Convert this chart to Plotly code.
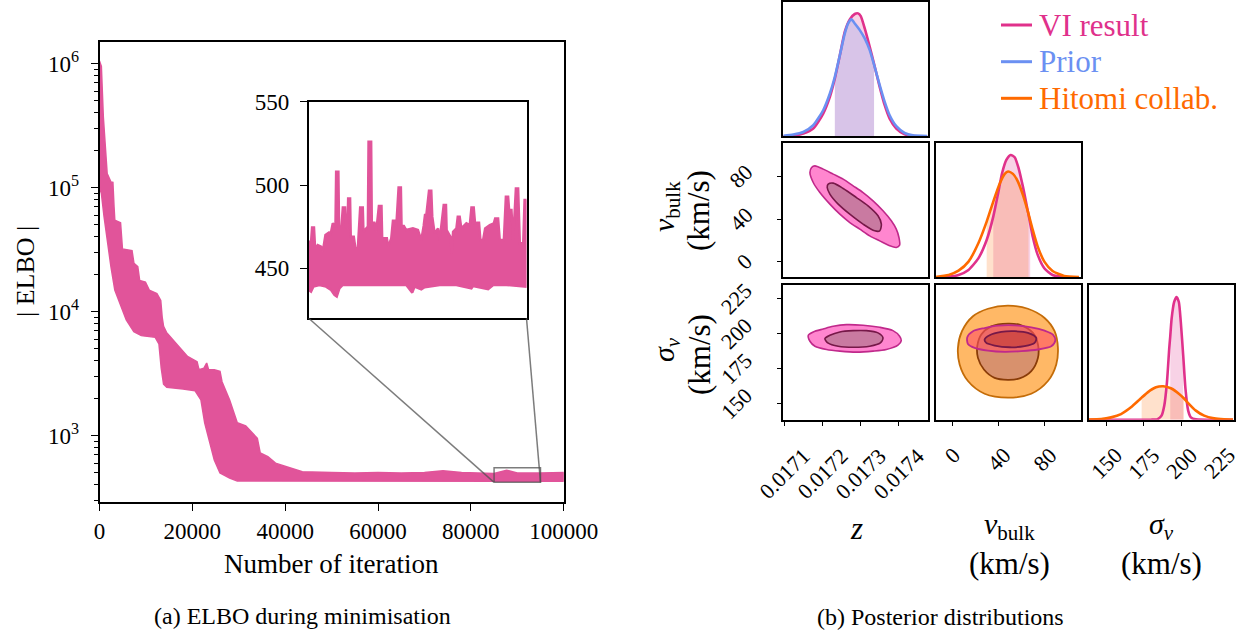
import math
import plotly.graph_objects as go

# ---------------- data: ELBO trace (envelope) ----------------
elbo_upper_iter = [0, 400, 825, 1236, 1650, 2473, 2886, 3133, 3298, 4535, 4947, 7008, 7421, 8245, 8658, 9894,
                   10718, 12367, 13192, 13500, 13800, 14430, 16480, 18960, 21020, 21430, 22500, 23090, 23500,
                   24730, 25960, 26390, 28030, 29680, 31500, 32980, 34000, 34620, 36270, 37920, 40390, 43690,
                   50000, 55000, 60000, 65000, 70000, 74000, 78000, 85000, 87700, 90000, 95000, 100000]
elbo_upper_val = [1.05e6, 9.5e5, 3.7e5, 2.1e5, 1.3e5, 1.11e5, 1.1e5, 7.0e4, 5.45e4, 5.2e4, 3.2e4, 3.1e4, 2.45e4,
                  2.3e4, 1.78e4, 1.73e4, 1.49e4, 1.4e4, 1.23e4, 9000, 7600, 6800, 5600, 4350, 3950, 3400, 3500,
                  3850, 3400, 3400, 3300, 2720, 1940, 1270, 1200, 1050, 950, 725, 677, 600, 562, 512,
                  505, 500, 505, 500, 505, 520, 505, 495, 526, 500, 500, 505]
elbo_lower_iter = [0, 413, 991, 1650, 2473, 3298, 4300, 5770, 7400, 9000, 12000, 12800, 13300, 13800, 14500,
                   18000, 20600, 21850, 22660, 23500, 24730, 25960, 28030, 29680, 100000]
elbo_lower_val = [1.0e5, 8.95e4, 5.8e4, 3.76e4, 2.29e4, 1.49e4, 1.2e4, 8550, 6900, 6400, 6200, 5500, 3500,
                  2600, 2450, 2380, 2300, 1940, 1270, 980, 636, 500, 455, 430, 428]

# zoomed window shown in the inset
zoom_iter = [85000, 95000]
zoom_val = [420, 550]

inset_upper_iter = [85000, 85107, 85153, 85245, 85291, 85368, 85414, 85568, 85644, 85767, 85920, 85982, 86104,
                    86227, 86258, 86365, 86396, 86503, 86565, 86672, 86703, 86779, 86810, 86902, 86933, 87071,
                    87148, 87255, 87362, 87485, 87516, 87715, 87746, 87869, 87899, 88022, 88099, 88221, 88344,
                    88375, 88590, 88651, 88789, 88866, 88958, 89019, 89126, 89234, 89265, 89372, 89479, 89786,
                    90016, 90170, 90277, 90338, 90400, 90522, 90630, 90676, 90783, 90937, 91013, 91197, 91305,
                    91335, 91504, 91566, 91627, 91780, 91842, 91934, 92010, 92240, 92394, 92471, 92578, 92639,
                    92731, 92823, 92885, 93007, 93099, 93314, 93498, 93560, 93698, 93774, 93959, 94051, 94158,
                    94204, 94311, 94388, 94511, 94618, 94695, 94848, 94910, 95000]
inset_upper_val = [466, 466, 474.6, 474.6, 463, 463, 464, 463, 460, 470, 471.4, 469, 477, 475, 508, 508, 475,
                   475, 486.6, 486.6, 475, 474, 492, 492, 469, 469, 462, 462, 486.6, 486.6, 472, 475, 526, 526,
                   477.4, 477.4, 472, 487.4, 487.4, 468, 468, 463, 468, 478.6, 478.6, 475, 498.6, 498.6, 475.4,
                   475.4, 473, 474, 473, 467, 475.4, 482, 482, 496.6, 496.6, 481, 471, 474, 467, 488, 488, 473,
                   469, 459, 472, 474, 481, 481, 474, 477, 476, 486.6, 486.6, 477, 477.4, 477.4, 467, 467, 474,
                   476, 477, 480, 480, 467, 467, 493, 493, 485, 485, 467, 498, 498, 465, 465, 491, 491]
inset_lower_iter = [85000, 85107, 85215, 85491, 85798, 86028, 86181, 86289, 86411, 86565, 87178, 87945, 88712,
                    89479, 89755, 89863, 90170, 90323, 91013, 91780, 92471, 92547, 93238, 93468, 94081, 95000]
inset_lower_val = [437, 436, 439, 440, 439, 437, 434, 433, 438, 440, 440.4, 440, 440, 440, 435.4, 439, 437.4,
                   438.6, 440, 440, 438, 439.4, 437.4, 440, 440, 439]

elbo_xticks = [0, 20000, 40000, 60000, 80000, 100000]
elbo_yticks = [1e3, 1e4, 1e5, 1e6]
inset_yticks = [450, 500, 550]

# ---------------- data: corner plot ----------------
# z marginal
z_vi = [0.0170972, 0.0171233, 0.0171494, 0.0171755, 0.0172016, 0.0172191, 0.0172321, 0.0172452, 0.0172582,
        0.0172713, 0.0172843, 0.0172930, 0.0173000, 0.0173104, 0.0173235, 0.0173348, 0.0173496, 0.0173627,
        0.0173757, 0.0173931, 0.0174149, 0.0174366, 0.0174741]
z_vi_dens = [0, 0.005, 0.022, 0.063, 0.185, 0.321, 0.470, 0.660, 0.851, 0.951, 0.995, 1.0, 0.978, 0.878, 0.728,
             0.59, 0.402, 0.253, 0.144, 0.063, 0.016, 0.003, 0]
z_prior = [0.0170972, 0.0171233, 0.0171494, 0.0171755, 0.0172016, 0.0172191, 0.0172321, 0.0172452, 0.0172582,
           0.0172669, 0.0172756, 0.0172843, 0.0172974, 0.0173104, 0.0173235, 0.0173348, 0.0173496, 0.0173627,
           0.0173757, 0.0173931, 0.0174149, 0.0174366, 0.0174741]
z_prior_dens = [0.005, 0.014, 0.035, 0.090, 0.212, 0.348, 0.484, 0.660, 0.837, 0.918, 0.951, 0.918, 0.864,
                0.796, 0.701, 0.583, 0.416, 0.280, 0.171, 0.082, 0.027, 0.008, 0.003]
z_band = [0.0172321, 0.0173348]

# v_bulk marginal
vb_vi = [-14.5, -3.1, 5.4, 14.0, 22.5, 29.7, 35.4, 39.6, 43.0, 46.7, 50.5, 53.9, 57.3, 61.0, 65.3, 67.3, 69.5,
         73.8, 79.5, 86.6, 96.6, 109.4]
vb_vi_dens = [0, 0.005, 0.019, 0.060, 0.155, 0.305, 0.496, 0.687, 0.850, 0.959, 1.0, 0.981, 0.891, 0.741, 0.537,
              0.44, 0.332, 0.183, 0.074, 0.019, 0.003, 0]
vb_hit = [-14.5, -3.1, 5.4, 14.0, 22.5, 29.7, 35.4, 41.1, 45.3, 48.2, 52.4, 56.7, 61.0, 65.3, 65.8, 69.5, 73.8,
          79.5, 86.6, 96.6, 109.4]
vb_hit_dens = [0.003, 0.019, 0.054, 0.128, 0.278, 0.455, 0.619, 0.768, 0.845, 0.864, 0.845, 0.782, 0.673, 0.537,
               0.52, 0.387, 0.251, 0.128, 0.052, 0.011, 0.003]
vb_band_vi = [35.4, 67.3]
vb_band_hit = [29.7, 65.8]

# sigma_v marginal
sg_vi = [138.3, 179.8, 184.2, 186.8, 188.6, 190.4, 191.9, 192.6, 193.5, 195.2, 196.8, 198.3, 199.6, 201.2, 202.7,
         204.5, 206.3, 209.6, 234.3]
sg_vi_dens = [0, 0, 0.005, 0.033, 0.114, 0.305, 0.578, 0.68, 0.823, 0.959, 1.0, 0.959, 0.796, 0.523, 0.251,
              0.074, 0.019, 0.003, 0]
sg_hit = [138.3, 146.7, 153.3, 159.9, 166.5, 172.1, 173.6, 177.6, 183.1, 187.9, 193.0, 198.5, 201.6, 204.0,
          209.6, 215.1, 221.7, 228.3, 234.3]
sg_hit_dens = [0.002, 0.005, 0.019, 0.046, 0.101, 0.163, 0.18, 0.223, 0.264, 0.272, 0.256, 0.210, 0.175, 0.142,
               0.074, 0.033, 0.011, 0.003, 0.001]
sg_band_vi = [192.6, 201.2]
sg_band_hit = [173.6, 201.6]

# 2D contours (z, v_bulk)
zvb_outer_z = [0.0171712, 0.0171799, 0.0172016, 0.0172278, 0.0172539, 0.0172800, 0.0173061, 0.0173322,
               0.0173583, 0.0173801, 0.0173931, 0.0174001, 0.0174018, 0.0173931, 0.0173757, 0.0173496,
               0.0173235, 0.0172974, 0.0172713, 0.0172452, 0.0172191, 0.0171929, 0.0171755, 0.0171668]
zvb_outer_vb = [88.4, 89.9, 86.8, 82.1, 77.4, 71.2, 64.9, 57.1, 47.8, 38.4, 30.6, 22.8, 15.6, 13.4, 15.0, 19.6,
                24.3, 30.6, 36.8, 44.6, 54.0, 64.9, 74.3, 83.7]
zvb_inner_z = [0.0172147, 0.0172278, 0.0172539, 0.0172887, 0.0173191, 0.0173452, 0.0173540, 0.0173496,
               0.0173365, 0.0173061, 0.0172713, 0.0172408, 0.0172191, 0.0172121]
zvb_inner_vb = [72.7, 73.7, 68.7, 60.2, 52.4, 43.1, 35.3, 29.0, 29.0, 35.3, 44.6, 54.0, 63.4, 69.6]

# 2D contours (z, sigma_v)
zsg_outer_z = [0.0171625, 0.0171755, 0.0172016, 0.0172278, 0.0172626, 0.0173061, 0.0173496, 0.0173844,
               0.0174018, 0.0174062, 0.0173975, 0.0173670, 0.0173322, 0.0172887, 0.0172452, 0.0172103,
               0.0171799, 0.0171668]
zsg_outer_sg = [198.8, 201.2, 203.3, 205.2, 206.4, 205.95, 204.5, 202.1, 198.1, 195.0, 191.7, 188.6, 187.4,
                186.7, 187.4, 188.6, 190.95, 194.5]
zsg_inner_z = [0.0172060, 0.0172191, 0.0172452, 0.0172800, 0.0173148, 0.0173452, 0.0173583, 0.0173513,
               0.0173235, 0.0172800, 0.0172408, 0.0172147]
zsg_inner_sg = [196.4, 198.8, 201.2, 202.1, 202.1, 200.5, 196.9, 193.3, 190.95, 190.2, 190.95, 193.1]

# 2D contours (v_bulk, sigma_v)
vbsg_outer_vb = [12.95, 17.85, 27.92, 39.43, 53.82, 68.21, 79.72, 86.92, 88.93, 85.48, 73.97, 59.58, 45.19,
                 30.80, 19.28, 13.53]
vbsg_outer_sg = [197.4, 201.7, 204.0, 205.7, 205.95, 204.5, 202.1, 199.3, 195.0, 190.95, 188.6, 187.4, 186.9,
                 187.8, 189.8, 192.6]
vbsg_inner_vb = [27.92, 32.24, 42.31, 53.82, 65.33, 72.53, 71.09, 62.45, 49.5, 36.55, 29.36]
vbsg_inner_sg = [195.7, 198.8, 201.2, 201.7, 200.5, 196.9, 193.3, 190.95, 190.2, 191.4, 193.3]
hit_outer_vb = [48.06, 65.33, 79.72, 88.36, 91.23, 89.80, 82.60, 68.21, 48.06, 27.92, 13.53, 6.33, 4.89, 8.35,
                17.85, 30.80]
hit_outer_sg = [220.0, 217.8, 211.2, 201.7, 189.8, 177.9, 166.0, 156.9, 154.1, 156.9, 166.0, 177.9, 189.8,
                201.7, 212.4, 217.8]
hit_inner_vb = [48.06, 59.58, 69.65, 73.97, 73.97, 68.21, 58.14, 48.06, 36.55, 27.34, 22.16, 21.59, 25.04, 33.67]
hit_inner_sg = [207.2, 205.95, 200.5, 192.2, 182.6, 173.1, 167.9, 166.9, 168.3, 174.3, 182.6, 190.95, 199.3,
                205.2]

z_ticks = [0.0171, 0.0172, 0.0173, 0.0174]
z_ticklabels = ["0.0171", "0.0172", "0.0173", "0.0174"]
vb_ticks = [0, 40, 80]
vb_ticklabels = ["0", "40", "80"]
sg_ticks = [150, 175, 200, 225]
sg_ticklabels = ["150", "175", "200", "225"]

legend_names = ["VI result", "Prior", "Hitomi collab."]

# ---------------- style / layout helpers ----------------
W, H = 1252, 637
FONT = "'Liberation Serif', 'Times New Roman', Times, serif"
BAND = "#e1549a"
C_VI = "#e0318b"
C_PRIOR = "#6b90f2"
C_HIT = "#ff6a00"
legend_colors = [C_VI, C_PRIOR, C_HIT]


def xd(left, right):
    return [left / W, right / W]


def yd(top, bottom):
    return [1 - bottom / H, 1 - top / H]


fig = go.Figure()


def closed(a):
    return list(a) + [a[0]]


def band_poly(xs, ys, lo, hi):
    px, py = [lo], [0.0]
    for x, y in zip(xs, ys):
        if lo - 1e-9 <= x <= hi + 1e-9:
            px.append(x)
            py.append(y)
    px.append(hi)
    py.append(0.0)
    return px, py


def add(tr, ax):
    tr.update(xaxis="x" + ax, yaxis="y" + ax, hoverinfo="skip", showlegend=False)
    fig.add_trace(tr)


# ---- main ELBO band
add(go.Scatter(x=elbo_upper_iter + elbo_lower_iter[::-1], y=elbo_upper_val + elbo_lower_val[::-1],
               mode="lines", fill="toself", fillcolor=BAND, line=dict(color=BAND, width=1.5)), "")
# zoom rectangle
add(go.Scatter(x=[zoom_iter[0], zoom_iter[1], zoom_iter[1], zoom_iter[0], zoom_iter[0]],
               y=[zoom_val[0], zoom_val[0], zoom_val[1], zoom_val[1], zoom_val[0]],
               mode="lines", line=dict(color="rgba(80,80,80,0.75)", width=1.5)), "")
# ---- inset
add(go.Scatter(x=inset_upper_iter + inset_lower_iter[::-1], y=inset_upper_val + inset_lower_val[::-1],
               mode="lines", fill="toself", fillcolor=BAND, line=dict(color=BAND, width=2.4)), "2")

# ---- z marginal (axis 3)
px, py = band_poly(z_vi, z_vi_dens, *z_band)
add(go.Scatter(x=px, y=py, mode="lines", fill="toself", fillcolor="rgba(224,49,139,0.22)",
               line=dict(width=0)), "3")
px, py = band_poly(z_prior, z_prior_dens, *z_band)
add(go.Scatter(x=px, y=py, mode="lines", fill="toself", fillcolor="rgba(107,144,242,0.22)",
               line=dict(width=0)), "3")
add(go.Scatter(x=z_vi, y=z_vi_dens, mode="lines",
               line=dict(color=C_VI, width=2.6, shape="spline", smoothing=0.6)), "3")
add(go.Scatter(x=z_prior, y=z_prior_dens, mode="lines",
               line=dict(color=C_PRIOR, width=2.6, shape="spline", smoothing=0.6)), "3")

# ---- z vs v_bulk (axis 4)
add(go.Scatter(x=closed(zvb_outer_z), y=closed(zvb_outer_vb), mode="lines", fill="toself", fillcolor="#ff86cf",
               line=dict(color="#c0298b", width=1.6, shape="spline", smoothing=0.8)), "4")
add(go.Scatter(x=closed(zvb_inner_z), y=closed(zvb_inner_vb), mode="lines", fill="toself", fillcolor="#c97aa1",
               line=dict(color="#761848", width=1.6, shape="spline", smoothing=0.8)), "4")

# ---- v_bulk marginal (axis 5)
px, py = band_poly(vb_vi, vb_vi_dens, *vb_band_vi)
add(go.Scatter(x=px, y=py, mode="lines", fill="toself", fillcolor="rgba(224,49,139,0.22)",
               line=dict(width=0)), "5")
px, py = band_poly(vb_hit, vb_hit_dens, *vb_band_hit)
add(go.Scatter(x=px, y=py, mode="lines", fill="toself", fillcolor="rgba(255,106,0,0.2)",
               line=dict(width=0)), "5")
add(go.Scatter(x=vb_vi, y=vb_vi_dens, mode="lines",
               line=dict(color=C_VI, width=2.6, shape="spline", smoothing=0.6)), "5")
add(go.Scatter(x=vb_hit, y=vb_hit_dens, mode="lines",
               line=dict(color=C_HIT, width=2.6, shape="spline", smoothing=0.6)), "5")

# ---- z vs sigma (axis 6)
add(go.Scatter(x=closed(zsg_outer_z), y=closed(zsg_outer_sg), mode="lines", fill="toself", fillcolor="#ff86cf",
               line=dict(color="#c0298b", width=1.6, shape="spline", smoothing=0.8)), "6")
add(go.Scatter(x=closed(zsg_inner_z), y=closed(zsg_inner_sg), mode="lines", fill="toself", fillcolor="#c97aa1",
               line=dict(color="#761848", width=1.6, shape="spline", smoothing=0.8)), "6")

# ---- v_bulk vs sigma (axis 7)
add(go.Scatter(x=closed(hit_outer_vb), y=closed(hit_outer_sg), mode="lines", fill="toself", fillcolor="#ffb866",
               line=dict(color="#c46c08", width=1.8, shape="spline", smoothing=1)), "7")
add(go.Scatter(x=closed(hit_inner_vb), y=closed(hit_inner_sg), mode="lines", fill="toself", fillcolor="#d8916d",
               line=dict(color="#8a3c08", width=1.8, shape="spline", smoothing=1)), "7")
add(go.Scatter(x=closed(vbsg_outer_vb), y=closed(vbsg_outer_sg), mode="lines", fill="toself",
               fillcolor="rgba(255,80,100,0.6)",
               line=dict(color="#c0298b", width=1.8, shape="spline", smoothing=0.8)), "7")
add(go.Scatter(x=closed(vbsg_inner_vb), y=closed(vbsg_inner_sg), mode="lines", fill="toself",
               fillcolor="rgba(190,55,50,0.6)",
               line=dict(color="#761848", width=1.8, shape="spline", smoothing=0.8)), "7")

# ---- sigma marginal (axis 8)
px, py = band_poly(sg_vi, sg_vi_dens, *sg_band_vi)
add(go.Scatter(x=px, y=py, mode="lines", fill="toself", fillcolor="rgba(224,49,139,0.22)",
               line=dict(width=0)), "8")
px, py = band_poly(sg_hit, sg_hit_dens, *sg_band_hit)
add(go.Scatter(x=px, y=py, mode="lines", fill="toself", fillcolor="rgba(255,106,0,0.2)",
               line=dict(width=0)), "8")
add(go.Scatter(x=sg_vi, y=sg_vi_dens, mode="lines",
               line=dict(color=C_VI, width=2.6, shape="spline", smoothing=0.6)), "8")
add(go.Scatter(x=sg_hit, y=sg_hit_dens, mode="lines",
               line=dict(color=C_HIT, width=2.6, shape="spline", smoothing=0.6)), "8")

# ---------------- axes ----------------
TF = dict(family=FONT, size=23, color="black")
frame = dict(showline=True, mirror=True, linecolor="black", linewidth=1.6, showgrid=False, zeroline=False,
             automargin=False)
noticks = dict(ticks="", showticklabels=False)

main_x_dom = xd(99.5, 563.7)
main_y_dom = yd(41.7, 502.3)
main_y_rng = [math.log10(290), math.log10(1.5e6)]
minor_vals = [m * 10 ** e for e in range(2, 7) for m in range(2, 10)]

axes = {}
axes["xaxis"] = dict(domain=main_x_dom, range=[0, 100000], anchor="y", tickvals=elbo_xticks,
                     ticktext=[str(v) for v in elbo_xticks], ticks="outside", ticklen=7, tickwidth=1.4,
                     tickcolor="black", tickfont=TF, ticklabelstandoff=0, **frame)
axes["yaxis"] = dict(domain=main_y_dom, type="log", range=main_y_rng, anchor="x", tickvals=elbo_yticks,
                     ticktext=["10<sup>%d</sup>" % round(math.log10(v)) for v in elbo_yticks],
                     ticks="outside", ticklen=7, tickwidth=1.4, tickcolor="black", tickfont=TF,
                     ticklabelstandoff=7,
                     minor=dict(tickmode="array", tickvals=minor_vals, ticks="outside", ticklen=4,
                                tickwidth=1.1, tickcolor="black", showgrid=False), **frame)
axes["xaxis2"] = dict(domain=xd(308.7, 526.5), range=zoom_iter, anchor="y2", **noticks, **frame)
axes["yaxis2"] = dict(domain=yd(101.7, 318.3), range=zoom_val, anchor="x2", tickvals=inset_yticks,
                      ticktext=[str(v) for v in inset_yticks], ticks="outside", ticklen=7, tickwidth=1.4,
                      tickcolor="black", tickfont=TF, ticklabelstandoff=6, **frame)

cols = [xd(783.3, 928.3), xd(935.5, 1080.8), xd(1088.5, 1233.5)]
rows = [yd(1.7, 136.3), yd(143.3, 277.3), yd(285.3, 419.7)]
z_rng = [0.017097, 0.017477]
vb_rng = [-14.5, 111]
sg_rng = [138.3, 234.6]
m_rng = [0, 1.095]
cframe = dict(frame, linewidth=1.5)
tk = dict(ticks="outside", ticklen=5, tickwidth=1.3, tickcolor="black", showticklabels=False)

panels = {
    "3": (cols[0], rows[0], z_rng, m_rng, None, None),
    "4": (cols[0], rows[1], z_rng, vb_rng, None, vb_ticks),
    "5": (cols[1], rows[1], vb_rng, m_rng, None, None),
    "6": (cols[0], rows[2], z_rng, sg_rng, z_ticks, sg_ticks),
    "7": (cols[1], rows[2], vb_rng, sg_rng, vb_ticks, None),
    "8": (cols[2], rows[2], sg_rng, m_rng, sg_ticks, None),
}
for k, (xdom, ydom, xr, yr, xt, yt) in panels.items():
    ax = dict(domain=xdom, range=xr, anchor="y" + k, **cframe)
    ax.update(dict(tk, tickvals=xt) if xt else noticks)
    ay = dict(domain=ydom, range=yr, anchor="x" + k, **cframe)
    ay.update(dict(tk, tickvals=yt) if yt else noticks)
    axes["xaxis" + k] = ax
    axes["yaxis" + k] = ay

# ---------------- annotations ----------------
ann = []


def txt(x, y, s, size, angle=0, xref="paper", yref="paper", xa="center", ya="middle", color="black"):
    ann.append(dict(x=x, y=y, xref=xref, yref=yref, text=s, showarrow=False, textangle=angle,
                    xanchor=xa, yanchor=ya, font=dict(family=FONT, size=size, color=color)))


# rotated tick labels of the corner plot
for xa_id, vals, labs in [("x6", z_ticks, z_ticklabels), ("x7", vb_ticks, vb_ticklabels),
                          ("x8", sg_ticks, sg_ticklabels)]:
    for v, l in zip(vals, labs):
        txt(v, 1 - 440 / H, l, 22, -45, xref=xa_id, ya="top")
for ya_id, vals, labs in [("y4", vb_ticks, vb_ticklabels), ("y6", sg_ticks, sg_ticklabels)]:
    for v, l in zip(vals, labs):
        txt(760 / W, v, l, 22, -45, yref=ya_id, xa="right")

# axis titles
txt(331 / W, 1 - 564 / H, "Number of iteration", 27)
txt(25 / W, 1 - 272 / H, "| ELBO |", 26, -90)
txt(856 / W, 1 - 528 / H, "<i>z</i>", 31)
txt(1009 / W, 1 - 526 / H, "<i>v</i><sub>bulk</sub>", 30)
txt(1009 / W, 1 - 563 / H, "(km/s)", 31)
txt(1161 / W, 1 - 526 / H, "<i>σ</i><sub><i>v</i></sub>", 30)
txt(1161 / W, 1 - 563 / H, "(km/s)", 31)
txt(666 / W, 1 - 207 / H, "<i>v</i><sub>bulk</sub>", 30, -90)
txt(699 / W, 1 - 210 / H, "(km/s)", 31, -90)
txt(666 / W, 1 - 350 / H, "<i>σ</i><sub><i>v</i></sub>", 30, -90)
txt(699 / W, 1 - 354 / H, "(km/s)", 31, -90)
# captions
txt(302 / W, 1 - 616 / H, "(a) ELBO during minimisation", 24)
txt(940 / W, 1 - 617 / H, "(b) Posterior distributions", 24)

# legend (keys + coloured labels)
shapes = []
legend_rows = [25, 61.7, 98.3]
for name, col, yy in zip(legend_names, legend_colors, legend_rows):
    shapes.append(dict(type="line", xref="paper", yref="paper", x0=1001 / W, x1=1032 / W,
                       y0=1 - yy / H, y1=1 - yy / H, line=dict(color=col, width=3)))
    txt(1037 / W, 1 - yy / H, name, 31, xa="left", color=col)


# ---------------- connector lines inset -> zoom box ----------------
def main_paper_x(v):
    return main_x_dom[0] + (v - 0) / 100000 * (main_x_dom[1] - main_x_dom[0])


def main_paper_y(v):
    return main_y_dom[0] + (math.log10(v) - main_y_rng[0]) / (main_y_rng[1] - main_y_rng[0]) * (
        main_y_dom[1] - main_y_dom[0])


inset_x_dom = axes["xaxis2"]["domain"]
inset_y_dom = axes["yaxis2"]["domain"]
for ix, zx in [(inset_x_dom[0], zoom_iter[0]), (inset_x_dom[1], zoom_iter[1])]:
    shapes.append(dict(type="line", xref="paper", yref="paper", x0=ix, y0=inset_y_dom[0],
                       x1=main_paper_x(zx), y1=main_paper_y(zoom_val[0]),
                       line=dict(color="rgba(80,80,80,0.75)", width=1.5)))

fig.update_layout(
    width=W, height=H, margin=dict(l=0, r=0, t=0, b=0, pad=0), autosize=False,
    paper_bgcolor="white", plot_bgcolor="white",
    font=dict(family=FONT, color="black"),
    annotations=ann, shapes=shapes,
    showlegend=False,
    **axes,
)

fig.write_html("out.html", config={"displayModeBar": False, "responsive": False},
               post_script="document.body.style.margin='0';document.body.style.overflow='hidden';")
